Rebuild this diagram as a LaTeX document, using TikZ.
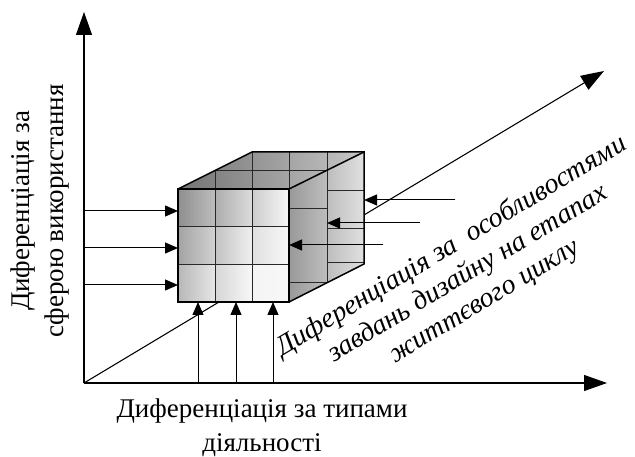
\documentclass[tikz,border=0pt]{standalone}
\usepackage{fontspec}
\setmainfont{Liberation Serif}
\usetikzlibrary{arrows.meta, positioning, calc}
\definecolor{gridline}{RGB}{40, 40, 40}

\begin{document}
\begin{tikzpicture}[
    x=1pt, y=-1pt,
    axis/.style={line width=1.1pt, -{Triangle[length=23pt, width=16pt]}},
    feed/.style={line width=1pt, -{Triangle[length=13pt, width=11pt]}},
    cubeedge/.style={line width=1.5pt, line join=miter},
    gridln/.style={draw=gridline, line width=0.9pt},
    axislabel/.style={font=\fontsize{27}{34}\selectfont, align=center},
    slantlabel/.style={font=\fontsize{28}{32}\selectfont\itshape, align=center}
]
    \useasboundingbox (0,0) rectangle (635,457);

    % axes
    \coordinate (o) at (84,383);
    \coordinate (ytop) at (84,12);
    \coordinate (xend) at (607,383);
    \coordinate (zend) at (604,71);
    \draw[axis] (o) -- (ytop);
    \draw[axis] (o) -- (xend);
    \draw[axis] (o) -- (zend);

    % cube corners
    \coordinate (f1) at (178,189);
    \coordinate (f2) at (289,189);
    \coordinate (f3) at (289,302);
    \coordinate (f4) at (178,302);
    \coordinate (b1) at (252,152);
    \coordinate (b2) at (364,152);
    \coordinate (b3) at (364,264);

    % top and right faces
    \shade[left color=black!55, right color=black!22] (f1) -- (b1) -- (b2) -- (f2) -- cycle;
    \shade[left color=black!40, right color=black!12] (f2) -- (b2) -- (b3) -- (f3) -- cycle;
    \draw[gridln] (215,170.5) -- (327,170.5);
    \foreach \gx/\gy in {215/170.5, 252/152, 289/152} {
        \draw[gridln] (\gx,\gy) -- (\gx,189);
    }
    \draw[gridln] (327,152) -- (327,282);
    \foreach \gy in {208, 282} {
        \draw[gridln] (289,\gy) -- (327,\gy);
    }
    \foreach \gy in {190, 228, 262} {
        \draw[gridln] (327,\gy) -- (364,\gy);
    }

    % front face
    \foreach \r in {0,1,2} {
        \foreach \c in {0,1,2} {
            \pgfmathtruncatemacro\dk{44-8*\r-12*\c}
            \pgfmathtruncatemacro\lt{max(3,\dk-18)}
            \shade[left color=black!\dk, right color=black!\lt]
                (178+37*\c,189+37.67*\r) rectangle (215+37*\c,226.67+37.67*\r);
        }
    }
    \foreach \gx in {215, 252} {
        \draw[gridln] (\gx,189) -- (\gx,302);
    }
    \foreach \gy in {226.67, 264.33} {
        \draw[gridln] (178,\gy) -- (289,\gy);
    }
    \draw[cubeedge] (f1) -- (b1) -- (b2) -- (b3) -- (f3);
    \draw[cubeedge] (f2) -- (b2);
    \draw[cubeedge] (f1) rectangle (f3);

    % arrows into the cube
    \foreach \yy [count=\i] in {211, 248, 285} {
        \coordinate (ls\i) at (84,\yy);
        \coordinate (le\i) at (178,\yy);
        \draw[feed] (ls\i) -- (le\i);
    }
    \foreach \xx [count=\i] in {198, 236, 273} {
        \coordinate (bs\i) at (\xx,383);
        \coordinate (be\i) at (\xx,302);
        \draw[feed] (bs\i) -- (be\i);
    }
    \foreach \xs/\xe/\yy [count=\i] in {455/364/200, 420/327/223, 383/289/245} {
        \coordinate (rs\i) at (\xs,\yy);
        \coordinate (re\i) at (\xe,\yy);
        \draw[feed] (rs\i) -- (re\i);
    }

    % labels
    \node[axislabel, rotate=90] (ylabel) at (40,211)
        {Диференціація за\\сферою використання};
    \node[axislabel] (xlabel) at (262,428)
        {Диференціація за типами\\діяльності};
    \node[slantlabel, rotate=31] (zlabel) at (468,274)
        {Диференціація за\ \ особливостями\\завдань дизайну на етапах\\життєвого циклу};
\end{tikzpicture}
\end{document}
